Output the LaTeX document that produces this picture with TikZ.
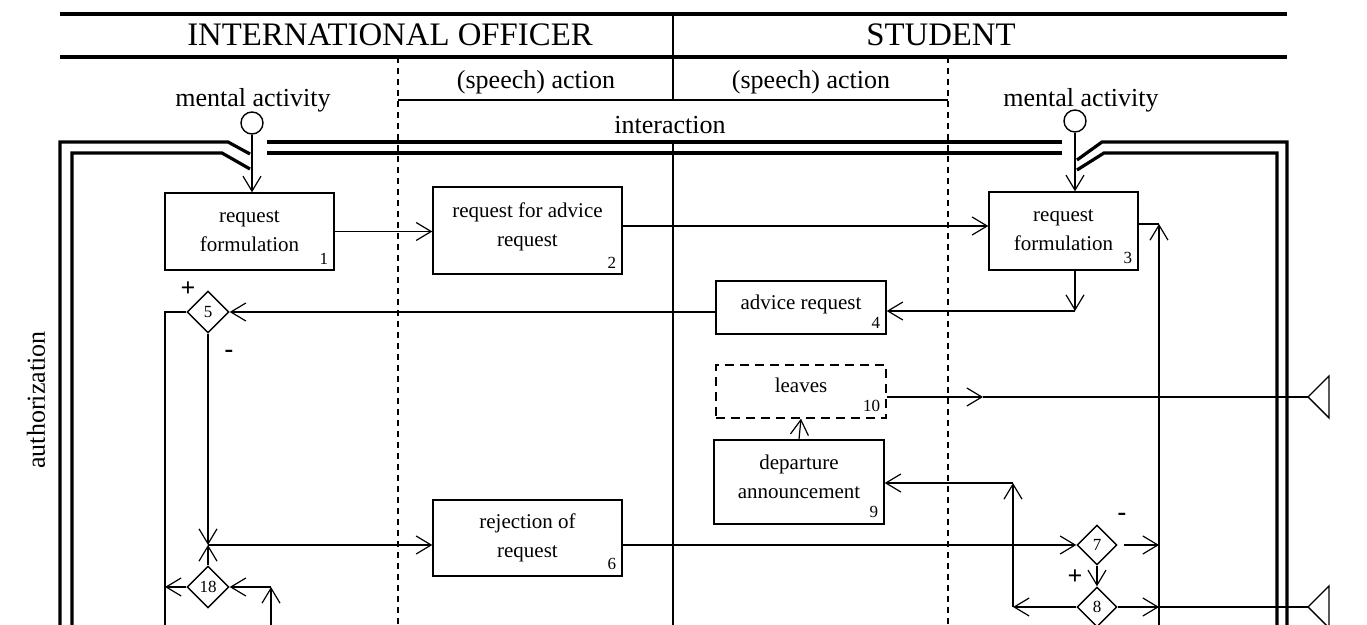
\documentclass[tikz,border=0pt]{standalone}
\usepackage{fontspec}
\setmainfont{Liberation Serif}
\usetikzlibrary{%
  arrows.meta,%
  shapes.geometric%
}
\tikzset{>={Straight Barb[length=7.5pt,width=9pt]}}
\tikzset{
  conn/.style={line width=0.6pt},
  frame/.style={line width=1.6pt},
  lane/.style={line width=0.6pt,dash pattern=on 3pt off 2.5pt},
  hd/.style={font=\fontsize{13}{15}\selectfont,inner sep=0pt},
  ttl/.style={font=\fontsize{16.4}{18}\selectfont,inner sep=0pt},
  box/.style={draw,line width=0.7pt,inner sep=0pt},
  txt/.style={align=center,inner sep=0pt,font=\fontsize{10.5}{14.5}\selectfont},
  num/.style={font=\fontsize{8.5}{9}\selectfont,inner sep=3pt},
  dia/.style={draw,diamond,line width=0.7pt,minimum size=21pt,inner sep=0pt,
    font=\fontsize{8.5}{9}\selectfont},
  sgn/.style={font=\fontsize{13}{14}\selectfont\bfseries,inner sep=0pt},
  ment/.style={draw,circle,line width=0.7pt,minimum size=11pt,inner sep=0pt}
}
\begin{document}
\begin{tikzpicture}[x=0.5pt,y=-0.5pt,conn]
\useasboundingbox (0,0) rectangle (1367,625);
\draw[frame] (60,14) -- (1287,14);
\draw[frame] (60,57) -- (1287,57);
\draw[line width=1.2pt] (673,14) -- (673,100);
\draw[line width=1.2pt] (673,142) -- (673,625);
\draw[line width=1.1pt] (398,100) -- (948,100);
\draw[lane] (398,57) -- (398,625);
\draw[lane] (948,57) -- (948,625);
\node[ttl] (io) at (390,35) {INTERNATIONAL OFFICER};
\node[ttl] (st) at (941,35) {STUDENT};
\node[hd] (sa1) at (536,82) {(speech) action};
\node[hd] (sa2) at (811,82) {(speech) action};
\node[hd] (ma1) at (253,100) {mental activity};
\node[hd] (ma2) at (1081,100) {mental activity};
\node[hd] (ia) at (670,125) {interaction};
\node[hd,rotate=90] (au) at (36,400) {authorization};
\draw[frame] (250,154) -- (228,142) -- (60,142) -- (60,625);
\draw[frame] (250,169) -- (222,153) -- (72,153) -- (72,625);
\draw[frame] (267,142) -- (1062,142);
\draw[frame] (267,153) -- (1062,153);
\draw[frame] (1077,160) -- (1102,142) -- (1287,142) -- (1287,625);
\draw[frame] (1077,170) -- (1104,153) -- (1277,153) -- (1277,625);
\node[ment] (c1) at (252,123) {};
\node[ment] (c2) at (1075,121) {};
\node[box,minimum width=84.5pt,minimum height=38.5pt,
  label={[num,anchor=south east]south east:1}] (b1) at (249.5,231.5) {};
\node[box,minimum width=94.5pt,minimum height=43.5pt,
  label={[num,anchor=south east]south east:2}] (b2) at (527.5,230.5) {};
\node[box,minimum width=74.5pt,minimum height=39pt,
  label={[num,anchor=south east]south east:3}] (b3) at (1063.5,231) {};
\node[box,minimum width=85pt,minimum height=26.5pt,
  label={[num,anchor=south east]south east:4}] (b4) at (801,307.5) {};
\node[box,dash pattern=on 4.5pt off 3pt,minimum width=85pt,minimum height=26.5pt,
  label={[num,anchor=south east]south east:10}] (b10) at (801,391.5) {};
\node[box,minimum width=85pt,minimum height=42pt,
  label={[num,anchor=south east]south east:9}] (b9) at (799,482) {};
\node[box,minimum width=94.5pt,minimum height=38pt,
  label={[num,anchor=south east]south east:6}] (b6) at (527.5,538) {};
\node[txt] (b1t) at (b1) {request\\formulation};
\node[txt] (b2t) at ([yshift=2pt]b2) {request for advice\\request};
\node[txt] (b3t) at ([yshift=0.5pt]b3) {request\\formulation};
\node[txt] (b4t) at ([yshift=1.5pt]b4) {advice request};
\node[txt] (b10t) at ([yshift=3pt]b10) {leaves};
\node[txt] (b9t) at ([yshift=2.5pt]b9) {departure\\announcement};
\node[txt] (b6t) at (b6) {rejection of\\request};
\node[dia] (d5) at (208,312) {5};
\node[dia] (d18) at (208,587) {18};
\node[dia,minimum size=20pt] (d7) at (1097,545) {7};
\node[dia,minimum size=20pt] (d8) at (1097,607) {8};
\node[sgn] (p5) at (188,289) {+};
\node[sgn] (m5) at (229,354) {-};
\node[sgn] (m7) at (1122,517) {-};
\node[sgn] (p7) at (1075,577) {+};
\coordinate (j1) at (208,545);
\coordinate (lx) at (165,625);
\coordinate (k18) at (271,587);
\coordinate (k18b) at (271,625);
\coordinate (r1) at (1159,224);
\coordinate (r1b) at (1159,625);
\coordinate (k4) at (1075,311);
\coordinate (k9) at (1013,483);
\coordinate (a10) at (983,397);
\coordinate (t10) at (1308,397);
\coordinate (t8) at (1308,607);
\draw[->] (c1.south) -- (c1 |- b1.north);
\draw[->] (c2.south) -- (c2 |- b3.north);
\draw[->] (b1.east) -- (b1.east -| b2.west);
\draw[->] (b2.east |- 0,226) -- (b3.west |- 0,226);
\draw[->] (r1b) -- (r1);
\draw (b3.east |- r1) -- (r1);
\draw[->] (c2 |- b3.south) -- (k4);
\draw[->] (k4) -- (k4 -| b4.east);
\draw[->] (d5 -| b4.west) -- (d5.east);
\draw (d5.west) -- (d5.west -| lx) -- (lx);
\draw[->] (d5.south) -- (j1);
\draw[->] (d18.north) -- (j1);
\draw[->] (j1) -- (j1 -| b6.west);
\draw[->] (d18.west) -- (d18.west -| lx);
\draw[->] (k18b) -- (k18);
\draw[->] (k18) -- (d18.east);
\draw[->] (j1 -| b6.east) -- (d7.west);
\draw[->] ([xshift=3pt]d7.east) -- (d7 -| r1);
\draw[->] (d7.south) -- (d8.north);
\draw[->] (d8.west) -- (d8 -| k9);
\draw[->] (d8 -| k9) -- (k9);
\draw[->] (k9) -- (k9 -| b9.east);
\draw[->] (d8.east) -- (d8 -| r1);
\draw (d8 -| r1) -- (t8);
\draw[->] (b9.north) -- (b10.south);
\draw[->] (b10.east |- t10) -- (a10);
\draw (a10) -- (t10);
\draw[line width=0.7pt] (t10) -- ++(21,-21) -- ++(0,42) -- cycle;
\draw[line width=0.7pt] (t8) -- ++(21,-21) -- ++(0,42) -- cycle;
\end{tikzpicture}
\end{document}
